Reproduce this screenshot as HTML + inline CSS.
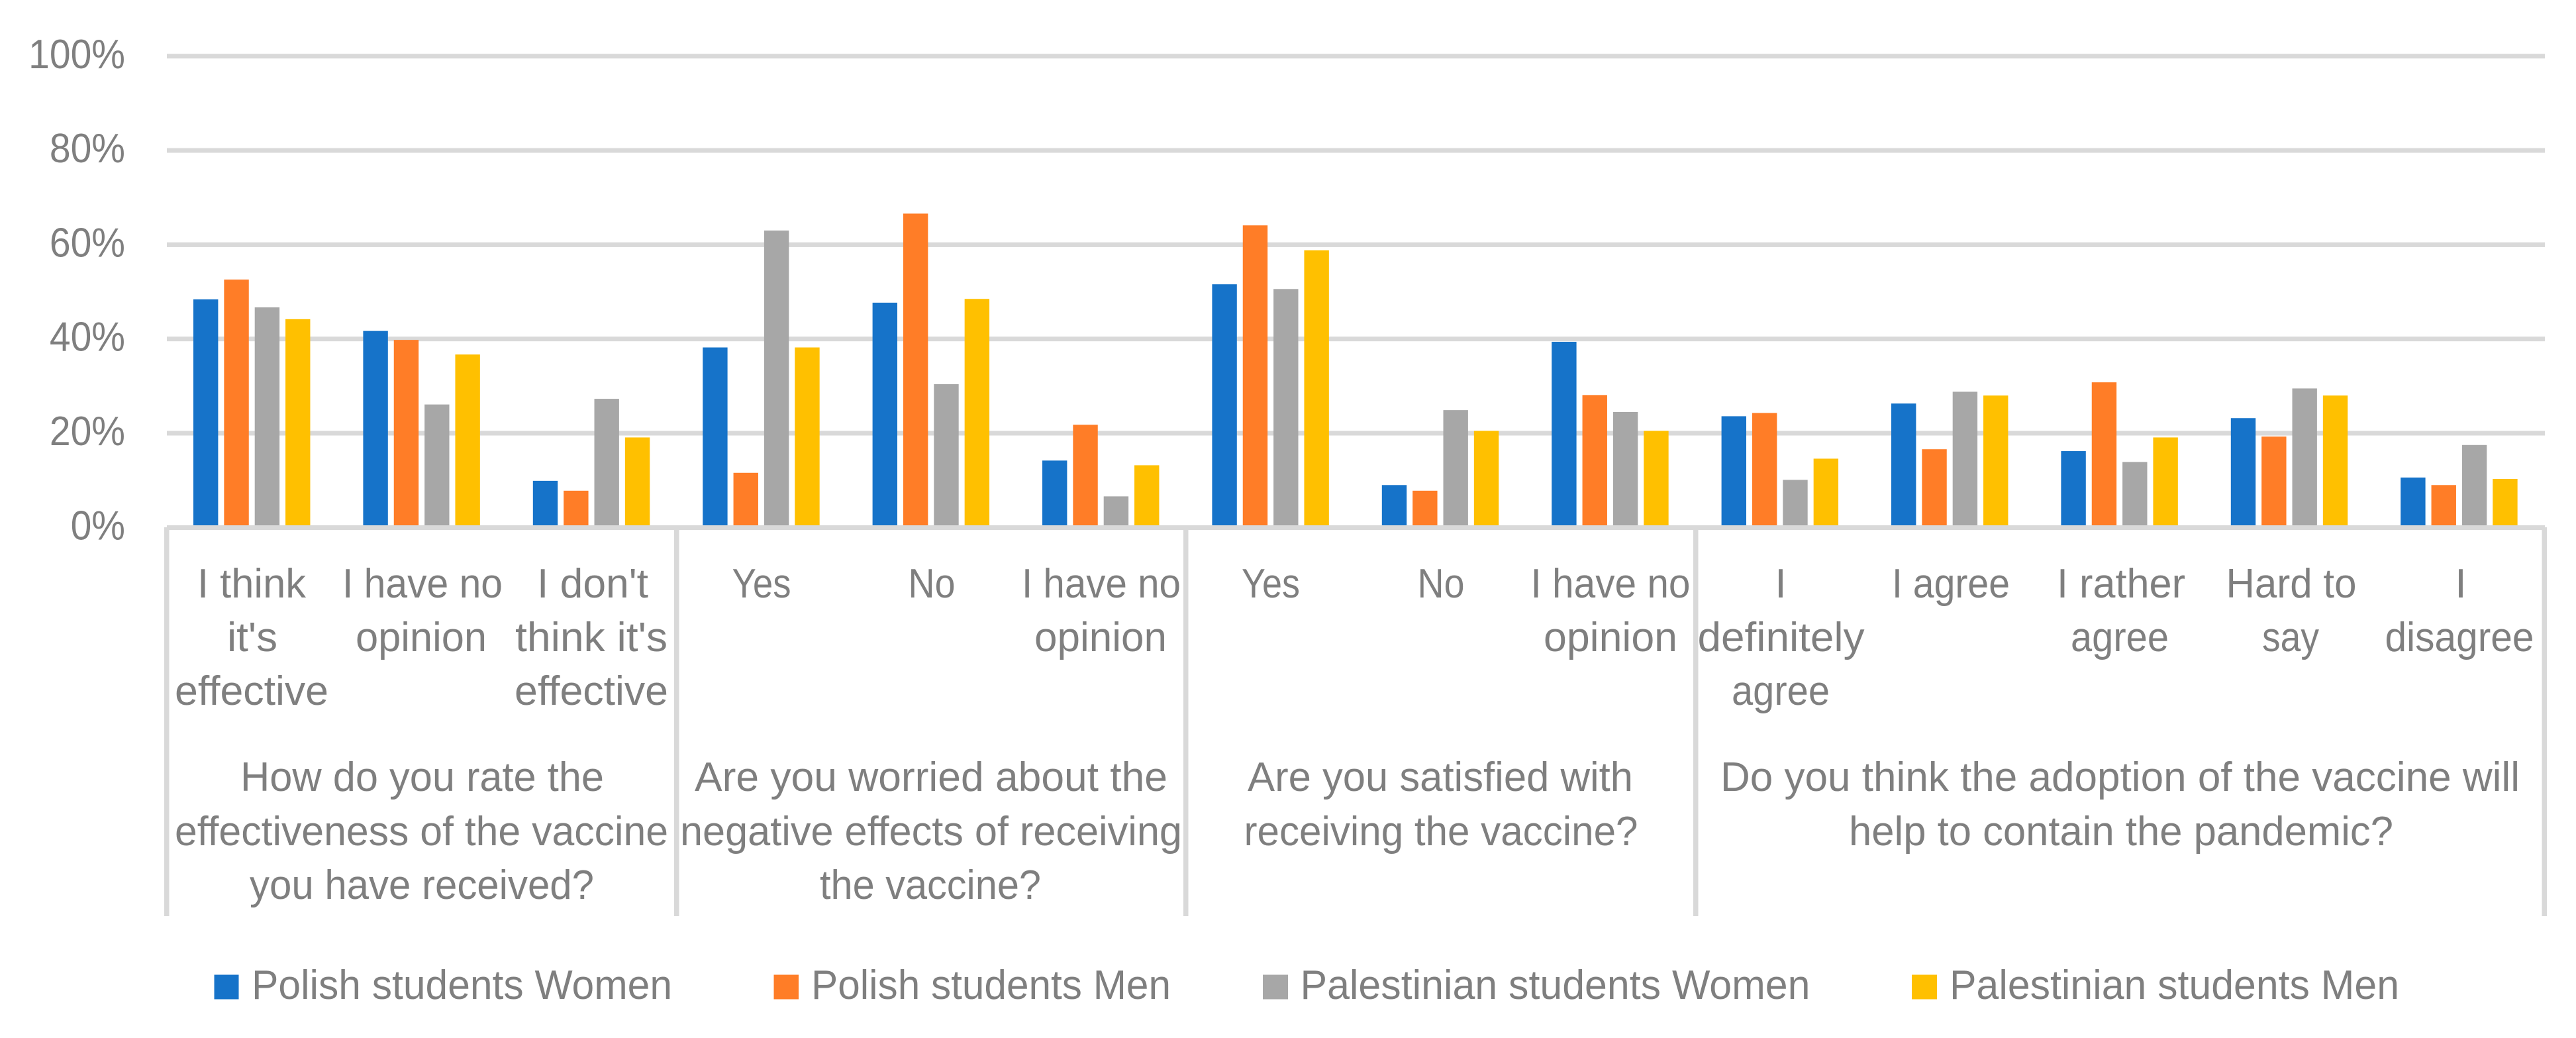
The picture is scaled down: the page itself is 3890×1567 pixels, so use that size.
<!DOCTYPE html>
<html lang="en">
<head>
<meta charset="utf-8">
<title>Vaccine opinions by student group</title>
<style>
html,body{margin:0;padding:0;background:#fff;}
svg{display:block;}
text{font-family:"Liberation Sans",Arial,sans-serif;font-size:62px;fill:#7f7f7f;}
.c{text-anchor:middle;}
</style>
</head>
<body>
<svg id="chart" xmlns="http://www.w3.org/2000/svg" width="3890" height="1567" viewBox="0 0 3890 1567">
  <rect x="0" y="0" width="3890" height="1567" fill="#ffffff"/>
  <g id="grid"></g>
  <g id="yticks"></g>
  <g id="bars"></g>

  <g fill="#d9d9d9">
    <rect x="252" y="793" width="3591" height="7"/>
    <rect x="248" y="796" width="7.5" height="587"/>
    <rect x="1018" y="796" width="7.5" height="587"/>
    <rect x="1787" y="796" width="7.5" height="587"/>
    <rect x="2557" y="796" width="7.5" height="587"/>
    <rect x="3838.5" y="796" width="7.5" height="587"/>
  </g>

  <g>
    <g>
      <text class="c" x="380" y="902" textLength="164" lengthAdjust="spacingAndGlyphs">I think</text>
      <text class="c" x="381" y="983" textLength="76" lengthAdjust="spacingAndGlyphs">it's</text>
      <text class="c" x="380" y="1064" textLength="232" lengthAdjust="spacingAndGlyphs">effective</text>
    </g>
    <g>
      <text class="c" x="638" y="902" textLength="242" lengthAdjust="spacingAndGlyphs">I have no</text>
      <text class="c" x="636" y="983" textLength="198" lengthAdjust="spacingAndGlyphs">opinion</text>
    </g>
    <g>
      <text class="c" x="895" y="902" textLength="168" lengthAdjust="spacingAndGlyphs">I don't</text>
      <text class="c" x="893" y="983" textLength="230" lengthAdjust="spacingAndGlyphs">think it's</text>
      <text class="c" x="893" y="1064" textLength="232" lengthAdjust="spacingAndGlyphs">effective</text>
    </g>
    <text class="c" x="1150" y="902" textLength="89" lengthAdjust="spacingAndGlyphs">Yes</text>
    <text class="c" x="1407" y="902" textLength="71" lengthAdjust="spacingAndGlyphs">No</text>
    <g>
      <text class="c" x="1663" y="902" textLength="240" lengthAdjust="spacingAndGlyphs">I have no</text>
      <text class="c" x="1662" y="983" textLength="200" lengthAdjust="spacingAndGlyphs">opinion</text>
    </g>
    <text class="c" x="1919" y="902" textLength="88" lengthAdjust="spacingAndGlyphs">Yes</text>
    <text class="c" x="2176" y="902" textLength="71" lengthAdjust="spacingAndGlyphs">No</text>
    <g>
      <text class="c" x="2432" y="902" textLength="241" lengthAdjust="spacingAndGlyphs">I have no</text>
      <text class="c" x="2432" y="983" textLength="202" lengthAdjust="spacingAndGlyphs">opinion</text>
    </g>
    <g>
      <text class="c" x="2689" y="902">I</text>
      <text class="c" x="2689.5" y="983" textLength="252" lengthAdjust="spacingAndGlyphs">definitely</text>
      <text class="c" x="2689" y="1064" textLength="148" lengthAdjust="spacingAndGlyphs">agree</text>
    </g>
    <text class="c" x="2946" y="902" textLength="178" lengthAdjust="spacingAndGlyphs">I agree</text>
    <g>
      <text class="c" x="3203" y="902" textLength="194" lengthAdjust="spacingAndGlyphs">I rather</text>
      <text class="c" x="3201" y="983" textLength="148" lengthAdjust="spacingAndGlyphs">agree</text>
    </g>
    <g>
      <text class="c" x="3460" y="902" textLength="197" lengthAdjust="spacingAndGlyphs">Hard to</text>
      <text class="c" x="3459" y="983" textLength="86" lengthAdjust="spacingAndGlyphs">say</text>
    </g>
    <g>
      <text class="c" x="3716" y="902">I</text>
      <text class="c" x="3714" y="983" textLength="225" lengthAdjust="spacingAndGlyphs">disagree</text>
    </g>
  </g>

  <g>
    <g>
      <text class="c" x="637.5" y="1194" textLength="549" lengthAdjust="spacingAndGlyphs">How do you rate the</text>
      <text class="c" x="636.5" y="1276" textLength="745" lengthAdjust="spacingAndGlyphs">effectiveness of the vaccine</text>
      <text class="c" x="637" y="1357" textLength="520" lengthAdjust="spacingAndGlyphs">you have received?</text>
    </g>
    <g>
      <text class="c" x="1406" y="1194" textLength="714" lengthAdjust="spacingAndGlyphs">Are you worried about the</text>
      <text class="c" x="1406" y="1276" textLength="758" lengthAdjust="spacingAndGlyphs">negative effects of receiving</text>
      <text class="c" x="1405" y="1357" textLength="334" lengthAdjust="spacingAndGlyphs">the vaccine?</text>
    </g>
    <g>
      <text class="c" x="2175" y="1194" textLength="582" lengthAdjust="spacingAndGlyphs">Are you satisfied with</text>
      <text class="c" x="2176" y="1276" textLength="595" lengthAdjust="spacingAndGlyphs">receiving the vaccine?</text>
    </g>
    <g>
      <text class="c" x="3201.5" y="1194" textLength="1207" lengthAdjust="spacingAndGlyphs">Do you think the adoption of the vaccine will</text>
      <text class="c" x="3203" y="1276" textLength="822" lengthAdjust="spacingAndGlyphs">help to contain the pandemic?</text>
    </g>
  </g>

  <g>
    <g>
      <rect x="323.5" y="1471.5" width="37" height="37" fill="#1673c9"/>
      <text x="380" y="1508" textLength="635" lengthAdjust="spacingAndGlyphs">Polish students Women</text>
    </g>
    <g>
      <rect x="1168.5" y="1471.5" width="37.5" height="37" fill="#ff7d27"/>
      <text x="1225" y="1508" textLength="543" lengthAdjust="spacingAndGlyphs">Polish students Men</text>
    </g>
    <g>
      <rect x="1907" y="1471.5" width="38" height="37" fill="#a7a7a7"/>
      <text x="1963.5" y="1508" textLength="770" lengthAdjust="spacingAndGlyphs">Palestinian students Women</text>
    </g>
    <g>
      <rect x="2887" y="1471.5" width="38" height="37" fill="#ffc000"/>
      <text x="2944" y="1508" textLength="679" lengthAdjust="spacingAndGlyphs">Palestinian students Men</text>
    </g>
  </g>
</svg>
<script>
const categoryKeys = ['effective','no-opinion-a','not-effective','yes-a','no-a','no-opinion-b','yes-b','no-b','no-opinion-c','definitely-agree','agree','rather-agree','hard-to-say','disagree'];
const polishWomen = [48.4,41.7,9.9,38.2,47.7,14.2,51.6,9.0,39.4,23.6,26.3,16.2,23.2,10.6];
const polishMen = [52.6,39.8,7.8,11.6,66.6,21.8,64.1,7.8,28.1,24.3,16.6,30.8,19.3,9.0];
const palestinianWomen = [46.7,26.1,27.3,63.0,30.4,6.6,50.6,24.9,24.5,10.1,28.8,13.9,29.5,17.5];
const palestinianMen = [44.2,36.7,19.1,38.2,48.5,13.2,58.8,20.5,20.5,14.6,28.0,19.1,28.0,10.3];
const seriesKeys = ['polish-women','polish-men','palestinian-women','palestinian-men'];
const yTicks = [0,20,40,60,80,100];

const NS = 'http://www.w3.org/2000/svg';
const seriesValues = [polishWomen, polishMen, palestinianWomen, palestinianMen];
const seriesColors = ['#1673c9','#ff7d27','#a7a7a7','#ffc000'];

function yScale(v){ return 796.3 - v * 7.115; }
function bandLeft(i){ return 252 + i * 256.4; }
function barX(i, s){ return bandLeft(i) + 40 + s * 46.35; }
const barWidth = 37.4;

const gridGroup = document.getElementById('grid');
const tickGroup = document.getElementById('yticks');
yTicks.forEach(function(t){
  if (t !== 0) {
    const line = document.createElementNS(NS, 'rect');
    
    
    line.setAttribute('x', 252);
    line.setAttribute('y', yScale(t) - 3.5);
    line.setAttribute('width', 3591);
    line.setAttribute('height', 7);
    line.setAttribute('fill', '#d9d9d9');
    gridGroup.appendChild(line);
  }
  const label = document.createElementNS(NS, 'text');
  
  
  label.setAttribute('text-anchor', 'end');
  label.setAttribute('transform', 'translate(189,' + (yScale(t) + 18) + ') scale(0.92,1)');
  label.textContent = t + '%';
  tickGroup.appendChild(label);
});

const barGroup = document.getElementById('bars');
seriesValues.forEach(function(values, s){
  values.forEach(function(v, i){
    const bar = document.createElementNS(NS, 'rect');
    
    
    bar.setAttribute('x', barX(i, s));
    bar.setAttribute('y', yScale(v));
    bar.setAttribute('width', barWidth);
    bar.setAttribute('height', yScale(0) - yScale(v));
    bar.setAttribute('fill', seriesColors[s]);
    barGroup.appendChild(bar);
  });
});
</script>
</body>
</html>
